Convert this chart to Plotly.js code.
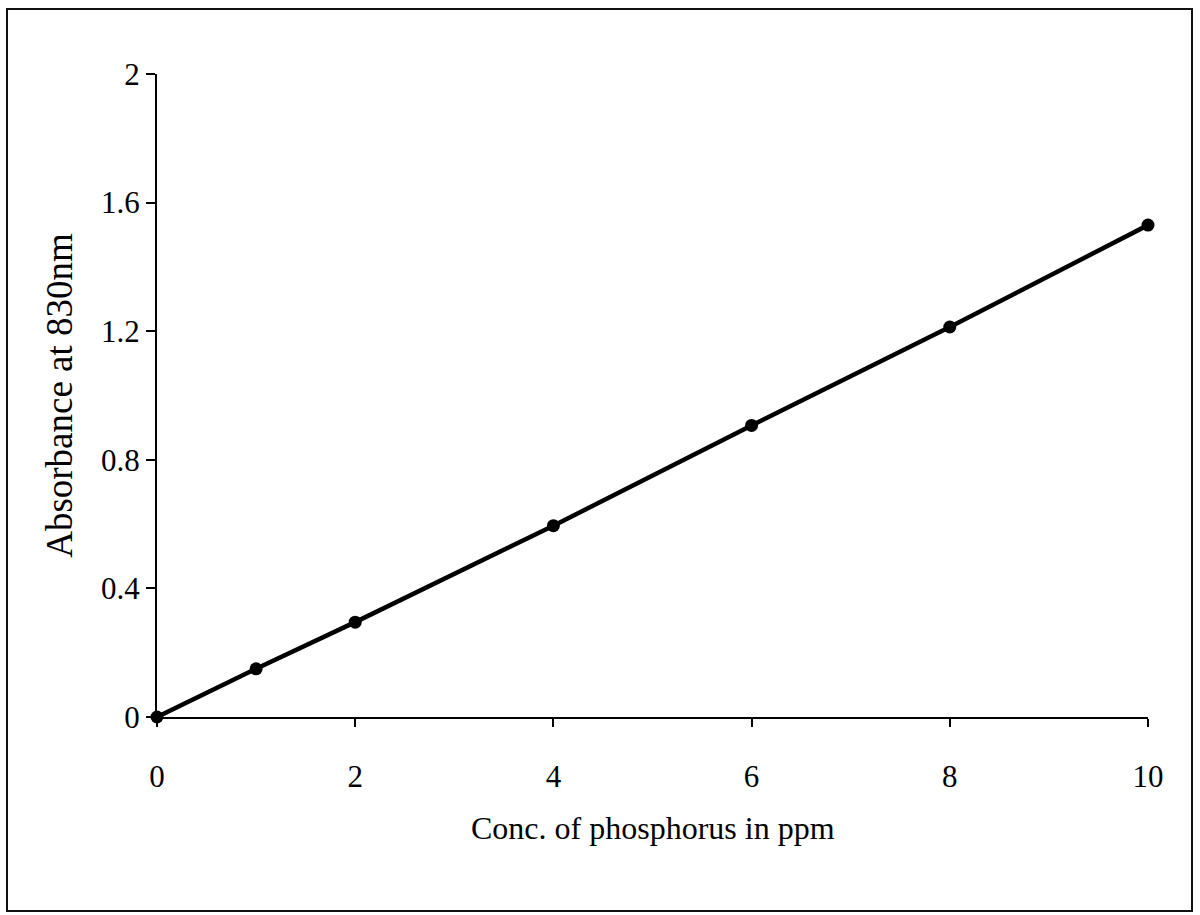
<!DOCTYPE html>
<html>
<head>
<meta charset="utf-8">
<script src="https://cdn.plot.ly/plotly-3.0.1.min.js"></script>
<style>
  html, body { margin: 0; padding: 0; background: #fff; }
  #wrap { position: relative; width: 1200px; height: 915px; }
  #chart { width: 1200px; height: 915px; }
  #frame { position: absolute; left: 6px; top: 8px; width: 1183px; height: 900px;
           border: 2px solid #111; pointer-events: none; }
</style>
</head>
<body>
<div id="wrap">
  <div id="chart"></div>
  <div id="frame"></div>
</div>
<script>
// Data
const concentration = [0, 1, 2, 4, 6, 8, 10];          // ppm phosphorus
const absorbance   = [0, 0.15, 0.295, 0.595, 0.907, 1.213, 1.53]; // absorbance at 830 nm
const xTickVals = [0, 2, 4, 6, 8, 10];
const xTickText = ["0", "2", "4", "6", "8", "10"];
const yTickVals = [0, 0.4, 0.8, 1.2, 1.6, 2];
const yTickText = ["0", "0.4", "0.8", "1.2", "1.6", "2"];
const xTitle = "Conc. of phosphorus in ppm";
const yTitle = "Absorbance at 830nm";

const serif = "Liberation Serif, Times New Roman, serif";

const trace = {
  x: concentration,
  y: absorbance,
  type: "scatter",
  mode: "lines+markers",
  line: { color: "#000", width: 4.5 },
  marker: { color: "#000", size: 13 },
  cliponaxis: false,
  showlegend: false,
  hoverinfo: "x+y"
};

const layout = {
  width: 1200,
  height: 915,
  margin: { l: 157, r: 52, t: 74, b: 198 },
  paper_bgcolor: "#fff",
  plot_bgcolor: "#fff",
  font: { family: serif, color: "#000", size: 31 },
  xaxis: {
    range: [0, 10],
    tickvals: xTickVals,
    ticktext: xTickText,
    showgrid: false,
    zeroline: false,
    showline: true,
    linecolor: "#000",
    linewidth: 2,
    ticks: "outside",
    ticklen: 8,
    tickwidth: 2,
    tickcolor: "#000",
    ticklabelstandoff: 23,
    tickfont: { family: serif, size: 31, color: "#000" },
    automargin: false
  },
  yaxis: {
    range: [0, 2],
    tickvals: yTickVals,
    ticktext: yTickText,
    showgrid: false,
    zeroline: false,
    showline: true,
    linecolor: "#000",
    linewidth: 2,
    ticks: "outside",
    ticklen: 9,
    tickwidth: 2,
    tickcolor: "#000",
    ticklabelstandoff: 0,
    tickfont: { family: serif, size: 31, color: "#000" },
    title: { text: yTitle, font: { family: serif, size: 37, color: "#000" } },
    automargin: false
  },
  annotations: [{
    text: xTitle,
    xref: "paper", yref: "paper",
    x: 0.5, y: -0.1726,
    xanchor: "center", yanchor: "middle",
    showarrow: false,
    font: { family: serif, size: 32, color: "#000" }
  }]
};

Plotly.newPlot("chart", [trace], layout, { displayModeBar: false, staticPlot: true });
</script>
</body>
</html>
